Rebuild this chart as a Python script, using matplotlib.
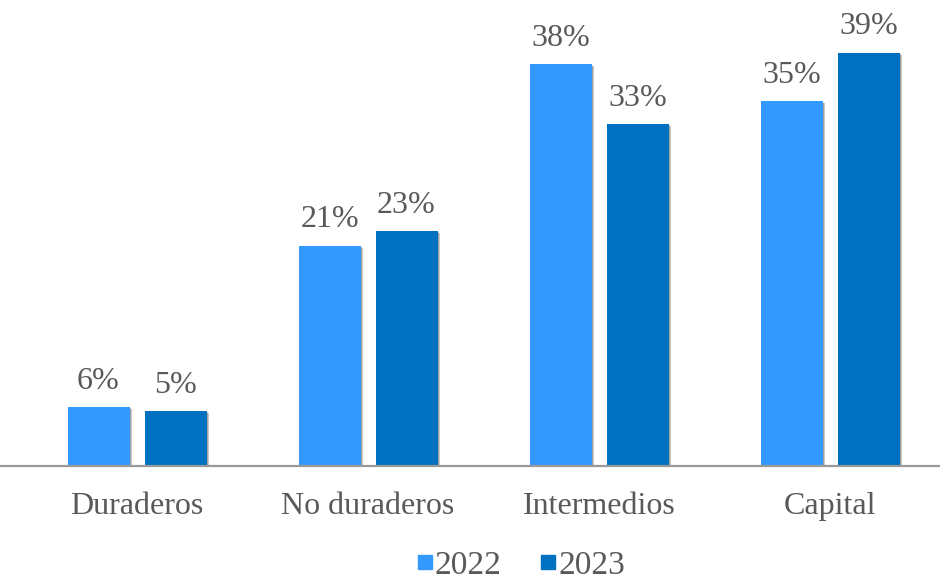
import matplotlib
matplotlib.use("Agg")
import matplotlib.pyplot as plt
import matplotlib.patheffects as pe
from matplotlib.lines import Line2D
import numpy as np

categories = ["Duraderos", "No duraderos", "Intermedios", "Capital"]
series_names = ["2022", "2023"]
values_2022 = [5.6, 20.8, 37.9, 34.4]
values_2023 = [5.2, 22.2, 32.3, 39.0]
labels_2022 = ["6%", "21%", "38%", "35%"]
labels_2023 = ["5%", "23%", "33%", "39%"]
colors = ["#3399FF", "#0070C0"]
text_color = "#595959"

plt.rcParams["font.family"] = ["Liberation Serif", "DejaVu Serif"]

fig = plt.figure(figsize=(9.4, 5.79), dpi=100)
ax = fig.add_axes([0, (579 - 466) / 579, 1, 466 / 579])

x = np.arange(len(categories))
w = 62 / 231
off = 38.5 / 231
shadow = [pe.SimplePatchShadow(offset=(2, -1.5), shadow_rgbFace="#909090", alpha=0.5),
          pe.SimplePatchShadow(offset=(1, -1), shadow_rgbFace="#808080", alpha=0.5),
          pe.Normal()]

for vals, labs, col, dx in [(values_2022, labels_2022, colors[0], -off),
                            (values_2023, labels_2023, colors[1], off)]:
    bars = ax.bar(x + dx, vals, width=w, color=col, zorder=2)
    for b, lab in zip(bars, labs):
        b.set_path_effects(shadow)
        ax.annotate(lab, (b.get_x() + b.get_width() / 2, b.get_height()),
                    xytext=(0, 8), textcoords="offset points",
                    ha="center", va="bottom", fontsize=23, color=text_color)

ax.set_xlim(-137 / 231, (940 - 137) / 231)
ax.set_ylim(0, 466 / 10.6)
for s in ["top", "right", "left"]:
    ax.spines[s].set_visible(False)
ax.spines["bottom"].set_color("#999999")
ax.spines["bottom"].set_linewidth(1.6)
ax.spines["bottom"].set_zorder(3)
ax.set_yticks([])
ax.set_xticks(x)
ax.set_xticklabels(categories, fontsize=23, color=text_color)
ax.tick_params(axis="x", length=0, pad=19)

handles = [Line2D([], [], marker="s", linestyle="none", markersize=10,
                  markerfacecolor=c, markeredgecolor=c) for c in colors]
fig.legend(handles, series_names, loc="lower center", bbox_to_anchor=(0.553, -0.055),
           ncol=2, frameon=False, fontsize=24, labelcolor=text_color,
           handletextpad=0.0, columnspacing=1.1, handlelength=0.6)

fig.savefig("out.png", dpi=100)
